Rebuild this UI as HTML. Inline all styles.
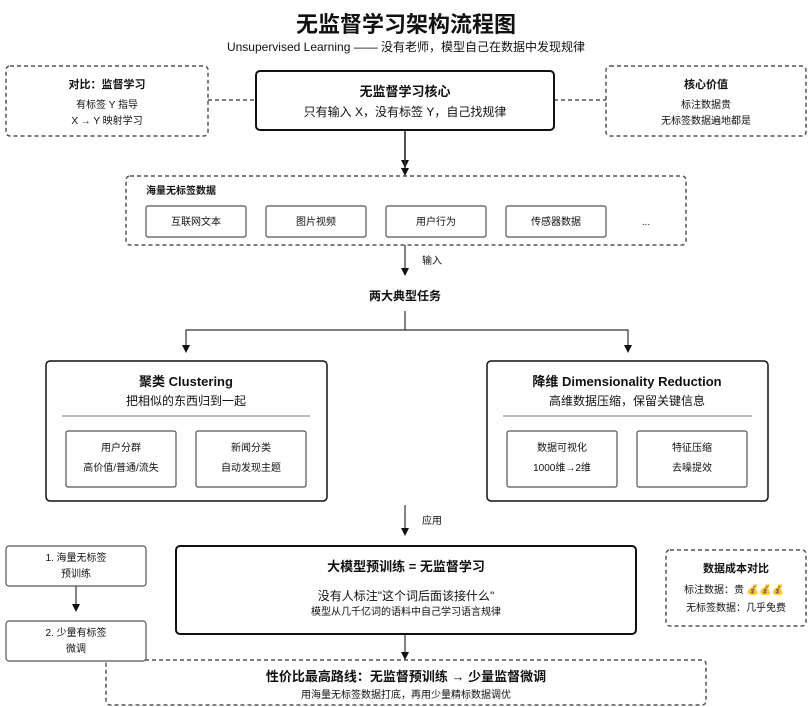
<!DOCTYPE html>
<html><head><meta charset="utf-8"><style>
html,body{margin:0;padding:0;background:#fff;width:812px;height:707px;overflow:hidden}
svg text{font-family:"Liberation Sans","Noto Sans CJK SC",sans-serif;fill:#111}
</style></head><body>
<svg width="812" height="707" viewBox="0 0 812 707" xmlns="http://www.w3.org/2000/svg">
<defs><marker id="a" markerWidth="8" markerHeight="8" refX="4" refY="7" orient="auto" markerUnits="userSpaceOnUse"><path d="M0,0 L8,0 L4,8 z" transform="rotate(-90 4 4)" fill="#111"/></marker>
<marker id="b" viewBox="0 0 10 10" refX="10" refY="5" markerWidth="8" markerHeight="8" orient="auto" markerUnits="userSpaceOnUse"><path d="M0,0 L10,5 L0,10 z" fill="#111"/></marker></defs>
<text x="406" y="32" text-anchor="middle" font-size="22" font-weight="bold">无监督学习架构流程图</text>
<text x="406" y="51" text-anchor="middle" font-size="12" fill="#333">Unsupervised Learning —— 没有老师，模型自己在数据中发现规律</text>

<g fill="none" stroke="#555" stroke-width="1.5" stroke-dasharray="4 3">
<rect x="6" y="66" width="202" height="70" rx="4"/>
<rect x="606" y="66" width="200" height="70" rx="4"/>
<line x1="208" y1="100" x2="256" y2="100"/><line x1="554" y1="100" x2="606" y2="100"/>
<rect x="126" y="176" width="560" height="69" rx="4"/>
<rect x="666" y="550" width="140" height="76" rx="4"/>
<rect x="106" y="660" width="600" height="45" rx="4"/>
</g>
<text x="107" y="88" text-anchor="middle" font-size="11" font-weight="bold">对比：监督学习</text>
<text x="107" y="108" text-anchor="middle" font-size="10">有标签 Y 指导</text>
<text x="107" y="124" text-anchor="middle" font-size="10">X → Y 映射学习</text>
<text x="706" y="88" text-anchor="middle" font-size="11" font-weight="bold">核心价值</text>
<text x="706" y="108" text-anchor="middle" font-size="10">标注数据贵</text>
<text x="706" y="124" text-anchor="middle" font-size="10">无标签数据遍地都是</text>

<rect x="256" y="71" width="298" height="59" rx="4" fill="#fff" stroke="#111" stroke-width="2"/>
<text x="405" y="96" text-anchor="middle" font-size="13" font-weight="bold">无监督学习核心</text>
<text x="405" y="116" text-anchor="middle" font-size="12">只有输入 X，没有标签 Y，自己找规律</text>

<g stroke="#111" stroke-width="1.5" fill="none">
<line x1="405" y1="130" x2="405" y2="168" marker-end="url(#b)" transform=""/>
</g>
<g stroke="#333" stroke-width="1.2" fill="none">
<line x1="405" y1="130" x2="405" y2="168"/>
</g>
<text x="146" y="194" font-size="10" font-weight="bold">海量无标签数据</text>
<g fill="#fff" stroke="#555" stroke-width="1.2">
<rect x="146" y="206" width="100" height="31" rx="2"/><rect x="266" y="206" width="100" height="31" rx="2"/>
<rect x="386" y="206" width="100" height="31" rx="2"/><rect x="506" y="206" width="100" height="31" rx="2"/>
</g>
<g font-size="10" text-anchor="middle"><text x="196" y="225">互联网文本</text><text x="316" y="225">图片视频</text><text x="436" y="225">用户行为</text><text x="556" y="225">传感器数据</text><text x="646" y="225">...</text></g>

<g stroke="#333" stroke-width="1.2" fill="none">
<line x1="405" y1="245" x2="405" y2="268"/>
<line x1="405" y1="311" x2="405" y2="330"/>
<polyline points="186,345 186,330 628,330 628,345"/>
<line x1="405" y1="505" x2="405" y2="528"/>
<line x1="405" y1="634" x2="405" y2="652"/>
<line x1="76" y1="586" x2="76" y2="604"/>
</g>
<g fill="#111">
<path d="M401,168 L409,168 L405,176 z"/><path d="M401,268 L409,268 L405,276 z"/>
<path d="M182,345 L190,345 L186,353 z"/><path d="M624,345 L632,345 L628,353 z"/>
<path d="M401,528 L409,528 L405,536 z"/><path d="M401,652 L409,652 L405,660 z"/>
<path d="M72,604 L80,604 L76,612 z"/>
</g>
<text x="422" y="264" font-size="10">输入</text>
<text x="405" y="300" text-anchor="middle" font-size="12" font-weight="bold">两大典型任务</text>
<text x="422" y="524" font-size="10">应用</text>

<g fill="#fff" stroke="#111" stroke-width="1.5">
<rect x="46" y="361" width="281" height="140" rx="4"/><rect x="487" y="361" width="281" height="140" rx="4"/>
</g>
<g stroke="#bbb" stroke-width="2"><line x1="62" y1="416" x2="310" y2="416"/><line x1="503" y1="416" x2="752" y2="416"/><line x1="192" y1="581" x2="620" y2="581"/></g>
<text x="186" y="386" text-anchor="middle" font-size="13" font-weight="bold">聚类 Clustering</text>
<text x="186" y="405" text-anchor="middle" font-size="12">把相似的东西归到一起</text>
<text x="627" y="386" text-anchor="middle" font-size="13" font-weight="bold">降维 Dimensionality Reduction</text>
<text x="627" y="405" text-anchor="middle" font-size="12">高维数据压缩，保留关键信息</text>
<g fill="#fff" stroke="#555" stroke-width="1.2">
<rect x="66" y="431" width="110" height="56" rx="2"/><rect x="196" y="431" width="110" height="56" rx="2"/>
<rect x="507" y="431" width="110" height="56" rx="2"/><rect x="637" y="431" width="110" height="56" rx="2"/>
</g>
<g font-size="10" text-anchor="middle">
<text x="121" y="451">用户分群</text><text x="121" y="471">高价值/普通/流失</text>
<text x="251" y="451">新闻分类</text><text x="251" y="471">自动发现主题</text>
<text x="562" y="451">数据可视化</text><text x="562" y="471">1000维→2维</text>
<text x="692" y="451">特征压缩</text><text x="692" y="471">去噪提效</text>
</g>

<g fill="#fff" stroke="#555" stroke-width="1.2">
<rect x="6" y="546" width="140" height="40" rx="3"/><rect x="6" y="621" width="140" height="40" rx="3"/>
</g>
<g font-size="10" text-anchor="middle">
<text x="76" y="561">1. 海量无标签</text><text x="76" y="577">预训练</text>
<text x="76" y="636">2. 少量有标签</text><text x="76" y="652">微调</text>
</g>
<rect x="176" y="546" width="460" height="88" rx="4" fill="#fff" stroke="#111" stroke-width="2"/>
<text x="406" y="571" text-anchor="middle" font-size="13" font-weight="bold">大模型预训练 = 无监督学习</text>
<text x="406" y="600" text-anchor="middle" font-size="12">没有人标注"这个词后面该接什么"</text>
<text x="406" y="615" text-anchor="middle" font-size="10">模型从几千亿词的语料中自己学习语言规律</text>

<text x="736" y="572" text-anchor="middle" font-size="11" font-weight="bold">数据成本对比</text>
<text x="684" y="593" font-size="10">标注数据：贵 💰💰💰</text>
<text x="686" y="611" font-size="10">无标签数据：几乎免费</text>

<text x="406" y="681" text-anchor="middle" font-size="13" font-weight="bold">性价比最高路线：无监督预训练 → 少量监督微调</text>
<text x="406" y="698" text-anchor="middle" font-size="10">用海量无标签数据打底，再用少量精标数据调优</text>
</svg>
</body></html>
